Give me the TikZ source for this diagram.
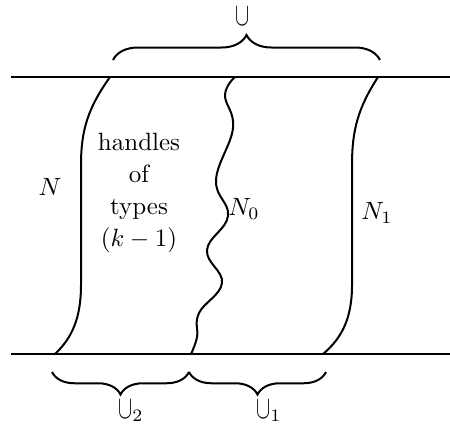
\documentclass[tikz,border=0pt]{standalone}
\usetikzlibrary{decorations.pathreplacing}
\newcommand{\tallcup}{\scalebox{0.85}[1.3]{$\cup$}}
\begin{document}
\begin{tikzpicture}[x=0.4pt,y=-0.4pt,
  bnd/.style={thick},
  brc/.style={thick,decorate,decoration={brace,amplitude=9pt}}]
  \useasboundingbox (0,0) rectangle (450,428);
  % the two levels
  \coordinate (tl) at (11,77);  \coordinate (tr) at (450,77);
  \coordinate (bl) at (11,354); \coordinate (br) at (450,354);
  \draw[bnd] (tl) -- (tr);
  \draw[bnd] (bl) -- (br);
  % left and right walls
  \draw[bnd] (110,77) .. controls (88,108) and (81,130) .. (81,165) -- (81,285)
    .. controls (81,318) and (72,338) .. (55,354);
  \draw[bnd] (378,77) .. controls (358,108) and (352,130) .. (352,165) -- (352,285)
    .. controls (352,318) and (342,338) .. (323,354);
  % wavy middle
  \draw[bnd] plot[smooth,tension=0.7] coordinates {(235,77) (225,95) (233,128)
    (216,180) (228,216) (207,250) (222,283) (199,313) (197,337) (191,354)};
  % braces
  \coordinate (ta) at (113,60); \coordinate (tb) at (380,60);
  \coordinate (ba) at (52,372); \coordinate (bm) at (189,372); \coordinate (bb) at (326,372);
  \draw[brc,decoration={amplitude=10pt}] (ta) -- (tb);
  \draw[brc] (bm) -- (ba);
  \draw[brc] (bb) -- (bm);
  % labels
  \node[inner sep=1pt] (cup) at (243,16) {\tallcup};
  \node (cup2) at (131,411) {\tallcup$_2$};
  \node (cup1) at (269,411) {\tallcup$_1$};
  \node (n)    at (50,187)  {$N$};
  \node (n0)   at (244,209) {$N_0$};
  \node (n1)   at (377,213) {$N_1$};
  \node[align=center,font={\fontsize{10}{12.8}\selectfont}] (hdl) at (139,193)
    {handles\\of\\types\\$(k-1)$};
\end{tikzpicture}
\end{document}
